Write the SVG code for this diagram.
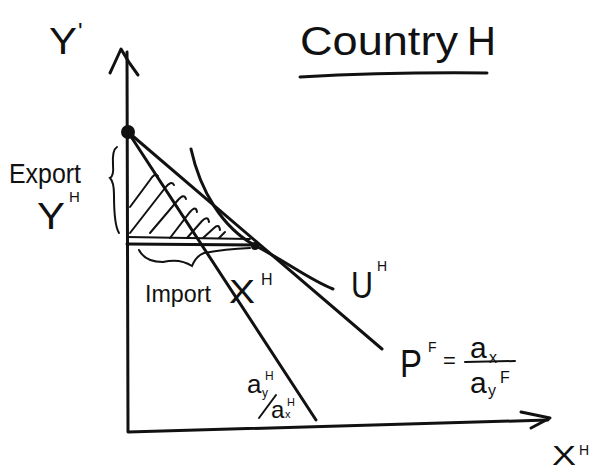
<svg xmlns="http://www.w3.org/2000/svg" width="593" height="472" viewBox="0 0 593 472">
<style>
.ln{fill:none;stroke:#111;stroke-width:3;stroke-linecap:round;stroke-linejoin:round}
.th{fill:none;stroke:#111;stroke-width:2;stroke-linecap:round}
.tx{font-family:"Liberation Sans",Arial,sans-serif;fill:#111}
</style>
<rect width="593" height="472" fill="#fff"/>
<g id="axes">
<path class="ln" d="M127,52 L128,432 L548,420"/>
<path class="ln" d="M110,73 Q117,58 121,49 Q128,62 138,75"/>
<path class="ln" d="M521,412 L550,418 L531,428"/>
</g>
<g id="connectors">
<path id="line-aH" class="ln" d="M128,132 L316,420"/>
<path id="line-PF" class="ln" d="M128,132 L382,349"/>
<path id="curve-UH" class="ln" d="M191,149 C200,190 222,228 256,246 S310,280 333,289"/>
<path class="th" d="M127,237 L250,239"/>
<path class="ln" d="M127,244 L258,245"/>
</g>
<g id="hatching">
<path class="th" d="M130,207 L150,180 Q155,172 158,176"/>
<path class="th" d="M130,233 L165,188 Q171,180 174,185"/>
<path class="th" d="M150,233 L178,200 Q184,193 186,199"/>
<path class="th" d="M170,238 L190,212 Q196,205 197,212"/>
<path class="th" d="M187,238 L202,221 Q208,215 209,222"/>
<path class="th" d="M203,238 L214,228 Q219,223 220,230"/>
<path class="th" d="M219,238 L225,232"/>
</g>
<g id="braces">
<path class="th" d="M117,147 Q112,150 113,165 Q114,176 110,178 Q114,182 114,195 Q114,225 119,233"/>
<path class="th" d="M139,250 Q145,262 163,262 Q180,258 192,266 Q196,256 204,253 Q225,249 250,248"/>
</g>
<g id="points">
<circle cx="128" cy="132" r="7" fill="#111"/>
<circle cx="255" cy="246" r="4" fill="#111"/>
</g>
<g id="labels">
<text class="tx" x="300" y="55" font-size="40" textLength="158" lengthAdjust="spacingAndGlyphs">Country</text>
<text class="tx" x="467" y="55" font-size="40">H</text>
<path class="ln" d="M300,77 Q390,72 487,73" stroke-width="2.5"/>
<text class="tx" x="49" y="54" font-size="36" textLength="28" lengthAdjust="spacingAndGlyphs">Y</text>
<text class="tx" x="78" y="40" font-size="24">'</text>
<text class="tx" x="9" y="183" font-size="27" textLength="72" lengthAdjust="spacingAndGlyphs">Export</text>
<text class="tx" x="37" y="229" font-size="36" textLength="28" lengthAdjust="spacingAndGlyphs">Y</text>
<text class="tx" x="69" y="202" font-size="15">H</text>
<text class="tx" x="145" y="302" font-size="24" textLength="66" lengthAdjust="spacingAndGlyphs">Import</text>
<text class="tx" x="229" y="303" font-size="34" textLength="26" lengthAdjust="spacingAndGlyphs">X</text>
<text class="tx" x="261" y="285" font-size="16">H</text>
<text class="tx" x="351" y="298" font-size="36" textLength="22" lengthAdjust="spacingAndGlyphs">U</text>
<text class="tx" x="377" y="271" font-size="14">H</text>
<text class="tx" x="400" y="377" font-size="38" textLength="22" lengthAdjust="spacingAndGlyphs">P</text>
<text class="tx" x="428" y="352" font-size="14">F</text>
<text class="tx" x="443" y="368" font-size="22">=</text>
<text class="tx" x="470" y="358" font-size="30">a</text>
<text class="tx" x="489" y="363" font-size="16">x</text>
<path class="th" d="M465,362 L515,361"/>
<text class="tx" x="470" y="393" font-size="30">a</text>
<text class="tx" x="488" y="396" font-size="16">y</text>
<text class="tx" x="500" y="383" font-size="16">F</text>
<text class="tx" x="247" y="393" font-size="26">a</text>
<text class="tx" x="262" y="397" font-size="12">y</text>
<text class="tx" x="265" y="380" font-size="12">H</text>
<path class="th" d="M259,418 L276,395"/>
<text class="tx" x="271" y="418" font-size="24">a</text>
<text class="tx" x="285" y="418" font-size="11">x</text>
<text class="tx" x="287" y="406" font-size="11">H</text>
<text class="tx" x="552" y="465" font-size="28" textLength="24" lengthAdjust="spacingAndGlyphs">X</text>
<text class="tx" x="579" y="455" font-size="14">H</text>
</g>
</svg>
